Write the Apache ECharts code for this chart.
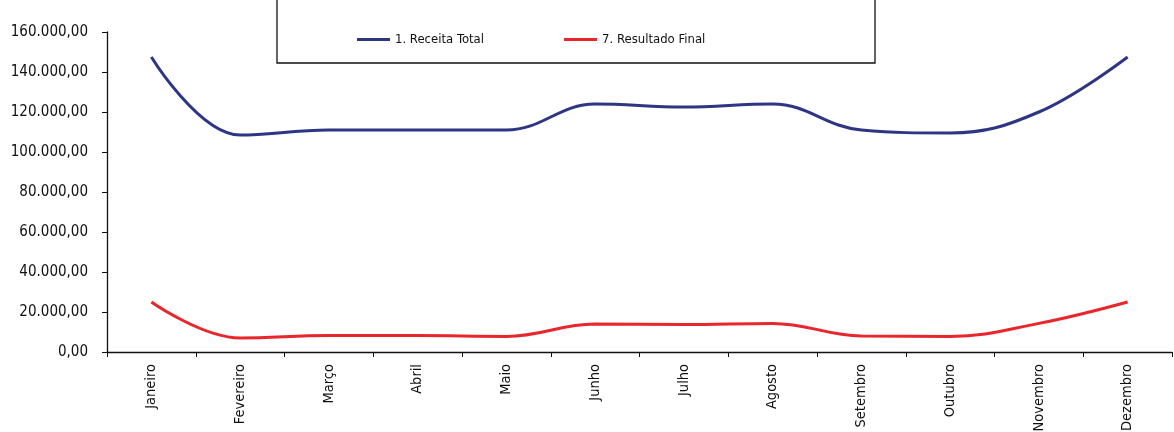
<!DOCTYPE html>
<html>
<head>
<meta charset="utf-8">
<script src="https://cdn.jsdelivr.net/npm/echarts@6/dist/echarts.min.js"></script>
<style>
  html, body { margin: 0; padding: 0; background: #fff; }
  #chart { width: 1174px; height: 432px; }
</style>
</head>
<body>
<div id="chart"></div>
<script>
// Monthly figures
const months = ['Janeiro', 'Fevereiro', 'Março', 'Abril', 'Maio', 'Junho',
                'Julho', 'Agosto', 'Setembro', 'Outubro', 'Novembro', 'Dezembro'];
const receitaTotal = [147500, 108500, 111000, 111000, 111000, 124000,
                      122500, 124000, 111000, 109500, 120000, 147500];
const resultadoFinal = [25000, 7000, 8200, 8200, 7800, 14000,
                        13800, 14300, 8000, 7800, 14300, 25000];
const seriesNames = ['1. Receita Total', '7. Resultado Final'];

const FONT = "'DejaVu Sans Condensed', 'DejaVu Sans', sans-serif";

// Brazilian number format: thousands with '.', decimals with ','
function fmtBR(v) {
  const parts = Math.round(v).toString().replace(/\B(?=(\d{3})+(?!\d))/g, '.');
  return parts + ',00';
}

const chart = echarts.init(document.getElementById('chart'), null, { renderer: 'canvas' });

chart.setOption({
  animation: false,
  backgroundColor: '#ffffff',
  grid: {
    left: 107, right: 2, top: 32, bottom: 80,
    containLabel: false,
    outerBoundsMode: 'none'
  },
  legend: {
    top: 28,
    left: 352,
    itemGap: 80,
    itemWidth: 33,
    itemHeight: 3,
    icon: 'rect',
    textStyle: { fontFamily: FONT, fontSize: 13, color: '#111' },
    data: seriesNames
  },
  graphic: [{
    type: 'rect',
    shape: { x: 277, y: -10, width: 598, height: 73 },
    style: { fill: 'none', stroke: '#111', lineWidth: 1.3 },
    z: 0
  }],
  xAxis: {
    type: 'category',
    data: months,
    boundaryGap: true,
    axisLine: { lineStyle: { color: '#111', width: 1.3 } },
    axisTick: { show: true, alignWithLabel: false, length: 5, lineStyle: { color: '#111' } },
    axisLabel: {
      rotate: 90,
      interval: 0,
      margin: 12,
      fontFamily: FONT,
      fontSize: 14.5,
      color: '#111'
    },
    splitLine: { show: false }
  },
  yAxis: {
    type: 'value',
    min: 0,
    max: 160000,
    interval: 20000,
    axisLine: { show: true, lineStyle: { color: '#111', width: 1.3 } },
    axisTick: { show: true, length: 5, lineStyle: { color: '#111' } },
    axisLabel: {
      margin: 19,
      fontFamily: FONT,
      fontSize: 15,
      color: '#111',
      formatter: fmtBR
    },
    splitLine: { show: false }
  },
  series: [
    {
      name: seriesNames[0],
      type: 'line',
      data: receitaTotal,
      smooth: 0.4,
      symbol: 'none',
      lineStyle: { color: '#2d3584', width: 3 },
      itemStyle: { color: '#2d3584' }
    },
    {
      name: seriesNames[1],
      type: 'line',
      data: resultadoFinal,
      smooth: 0.4,
      symbol: 'none',
      lineStyle: { color: '#e8262b', width: 3 },
      itemStyle: { color: '#e8262b' }
    }
  ]
});
</script>
</body>
</html>
